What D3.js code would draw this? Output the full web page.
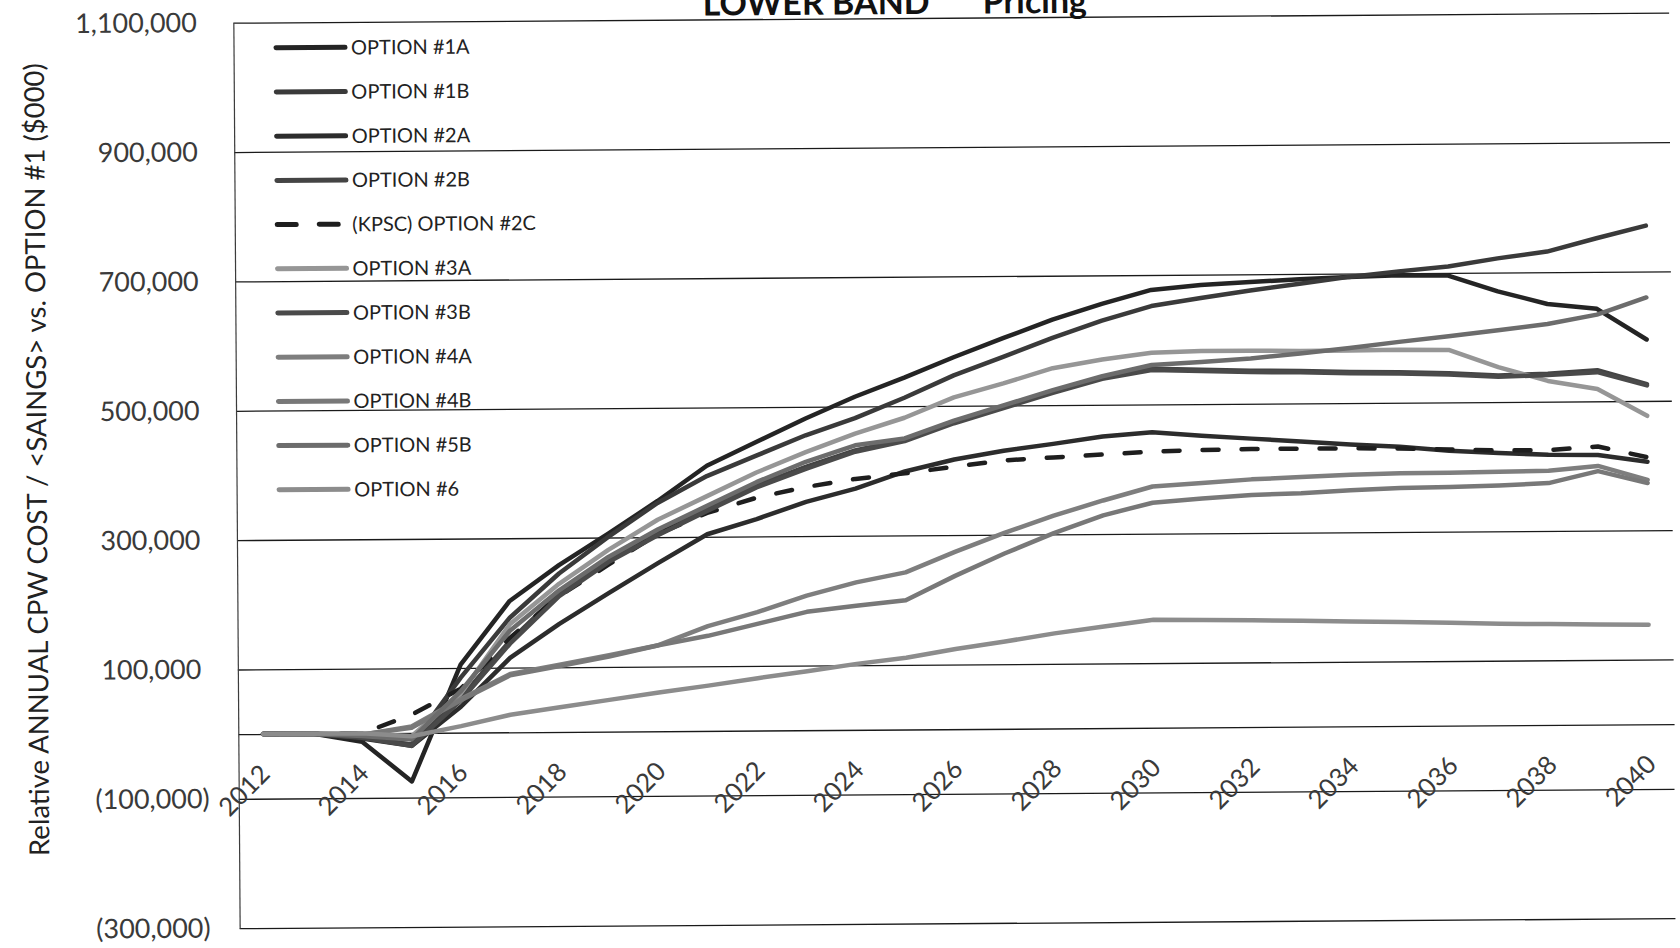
<!DOCTYPE html>
<html>
<head>
<meta charset="utf-8">
<script src="https://cdn.jsdelivr.net/npm/d3@7"></script>
<style>
  html, body { margin: 0; padding: 0; background: #fff; overflow: hidden; }
  svg { display: block; }
</style>
</head>
<body>
<svg id="chart" width="1680" height="948"></svg>
<script>
// ---- data: relative annual CPW cost vs. Option #1, in $000 ----
const years = [2012, 2013, 2014, 2015, 2016, 2017, 2018, 2019, 2020, 2021,
               2022, 2023, 2024, 2025, 2026, 2027, 2028, 2029, 2030, 2031,
               2032, 2033, 2034, 2035, 2036, 2037, 2038, 2039, 2040];

const option1A = [0, 0, -13000, -75000, 105000, 203000, 258000, 306000, 356000, 410000,
                  446000, 482000, 515000, 544000, 575000, 604000, 632000, 656000, 677000, 684000,
                  688000, 692000, 695000, 697000, 696000, 671000, 651000, 643000, 595000];
const option1B = [0, 0, -6000, -18000, 85000, 177000, 245000, 301000, 353000, 394000,
                  425000, 456000, 482000, 513000, 547000, 575000, 604000, 630000, 652000, 664000,
                  675000, 685000, 695000, 703000, 710000, 722000, 732000, 752000, 771000];
const option2A = [0, 0, -8000, -20000, 40000, 115000, 167000, 214000, 260000, 304000,
                  327000, 353000, 373000, 399000, 417000, 430000, 440000, 451000, 457000, 451000,
                  446000, 441000, 436000, 432000, 425000, 421000, 418000, 417000, 406000];
const option2B = [0, 0, -6000, -18000, 54000, 141000, 214000, 265000, 306000, 343000,
                  379000, 407000, 432000, 448000, 475000, 498000, 521000, 542000, 555000, 553000,
                  551000, 550000, 548000, 547000, 545000, 541000, 543000, 548000, 526000];
const option2C = [0, 0, 0, 28000, 68000, 146000, 210000, 258000, 305000, 337000,
                  360000, 376000, 388000, 396000, 406000, 415000, 419000, 423000, 427000, 429000,
                  430000, 430000, 430000, 429000, 427000, 425000, 425000, 430000, 413000];
const option3A = [0, 0, -3000, -5000, 60000, 167000, 229000, 281000, 327000, 363000,
                  399000, 430000, 458000, 482000, 513000, 534000, 557000, 570000, 580000, 582000,
                  582000, 581000, 581000, 582000, 581000, 554000, 532000, 519000, 477000];
const option3B = [0, 0, -7000, -20000, 50000, 137000, 210000, 262000, 303000, 340000,
                  376000, 404000, 430000, 446000, 473000, 496000, 519000, 540000, 553000, 551000,
                  549000, 548000, 546000, 545000, 543000, 539000, 541000, 545000, 524000];
const option4A = [0, 0, -2000, 10000, 52000, 90000, 104000, 118000, 133000, 162000,
                  183000, 208000, 228000, 243000, 274000, 303000, 329000, 352000, 373000, 378000,
                  383000, 386000, 389000, 391000, 391000, 392000, 393000, 400000, 378000];
const option4B = [0, 0, -2000, 8000, 50000, 88000, 102000, 116000, 133000, 147000,
                  165000, 183000, 192000, 200000, 237000, 271000, 302000, 329000, 348000, 354000,
                  359000, 361000, 365000, 368000, 369000, 371000, 374000, 392000, 373000];
const option5B = [0, 0, -4000, -10000, 64000, 157000, 219000, 270000, 312000, 348000,
                  384000, 415000, 440000, 450000, 477000, 500000, 523000, 544000, 561000, 565000,
                  570000, 577000, 585000, 594000, 602000, 611000, 620000, 634000, 660000];
const option6  = [0, 0, 0, -5000, 10000, 27000, 38000, 49000, 60000, 70000,
                  81000, 91000, 102000, 111000, 124000, 135000, 147000, 157000, 167000, 166000,
                  165000, 164000, 162000, 161000, 159000, 157000, 156000, 155000, 154000];

const seriesNames = ["OPTION #1A", "OPTION #1B", "OPTION #2A", "OPTION #2B", "(KPSC) OPTION #2C",
                     "OPTION #3A", "OPTION #3B", "OPTION #4A", "OPTION #4B", "OPTION #5B", "OPTION #6"];
const seriesValues = [option1A, option1B, option2A, option2B, option2C,
                      option3A, option3B, option4A, option4B, option5B, option6];

const xTickYears = [2012, 2014, 2016, 2018, 2020, 2022, 2024, 2026, 2028, 2030, 2032, 2034, 2036, 2038, 2040];
const yTickValues = [-300000, -100000, 100000, 300000, 500000, 700000, 900000, 1100000];

const titleLeft = "LOWER BAND";
const titleRight = "Pricing";
const yAxisTitle = "Relative ANNUAL CPW COST / <SAINGS> vs. OPTION #1 ($000)";

// ---- styling (greyscale print) ----
const seriesColors = ["#242424", "#3a3a3a", "#2c2c2c", "#444444", "#1e1e1e",
                      "#969696", "#4a4a4a", "#7e7e7e", "#787878", "#6c6c6c", "#8c8c8c"];
const seriesDash   = [null, null, null, null, "16,23", null, null, null, null, null, null];
const FONT = "Lato, 'Open Sans', 'Noto Sans', sans-serif";

// ---- layout ----
const plotLeft = 236.5, plotRight = 1672.3, plotTop = 18.5, plotBottom = 924;

const svg = d3.select("#chart");
svg.append("rect").attr("width", 1680).attr("height", 948).attr("fill", "#fff");

// the printed page sits very slightly askew
const root = svg.append("g").attr("transform", "rotate(-0.4 840 474)");

const x = d3.scalePoint().domain(years).range([plotLeft, plotRight]).padding(0.5);
const y = d3.scaleLinear().domain([-300000, 1100000]).range([plotBottom, plotTop]);

function fitWidth(sel, target) {
  const w = sel.node().getComputedTextLength();
  const fs = parseFloat(sel.attr("font-size"));
  const nfs = fs * target / w;
  sel.attr("font-size", nfs);
  return nfs;
}

// horizontal gridlines (major units)
root.append("g")
  .attr("transform", `translate(${plotLeft},0)`)
  .call(d3.axisLeft(y).tickValues(yTickValues).tickSize(-(plotRight - plotLeft)).tickFormat(""))
  .call(g => g.select(".domain").remove())
  .call(g => g.selectAll("line").attr("stroke", "#1a1a1a").attr("stroke-width", 1.3));

// value axis with accounting-style labels
const fmt = d3.format(",");
const yAxisG = root.append("g")
  .attr("transform", `translate(${plotLeft},0)`)
  .call(d3.axisLeft(y).tickValues(yTickValues).tickSize(0).tickPadding(36.5)
        .tickFormat(d => d < 0 ? `(${fmt(-d)})` : fmt(d)));
yAxisG.select(".domain").attr("stroke", "#3c3c3c").attr("stroke-width", 1.2);
yAxisG.selectAll("text")
  .attr("font-family", FONT).attr("font-size", 26).attr("fill", "#3a3a3a")
  .attr("x", d => d < 0 ? -29 : -36.5);
// size the tick font from the "100,000" label width
const refTick = yAxisG.selectAll("text").filter(d => d === 100000);
const tickFs = fitWidth(refTick, 100);
yAxisG.selectAll("text").attr("font-size", tickFs);

// category axis crossing at zero
const xAxisG = root.append("g")
  .attr("transform", `translate(0,${y(0)})`)
  .call(d3.axisBottom(x).tickValues(xTickYears).tickSize(0).tickSizeOuter(0));
xAxisG.select(".domain").attr("stroke", "#1a1a1a").attr("stroke-width", 1.3);
xAxisG.selectAll("text")
  .attr("font-family", FONT).attr("font-size", tickFs * 0.95).attr("fill", "#3a3a3a")
  .attr("text-anchor", "end")
  .attr("x", 0).attr("y", 0).attr("dy", 0)
  .attr("transform", "translate(7.5,41.5) rotate(-45)");

// series lines
const line = d3.line()
  .x((d, i) => x(years[i]))
  .y(d => y(d));

seriesValues.forEach((vals, i) => {
  root.append("path")
    .datum(vals)
    .attr("d", line)
    .attr("fill", "none")
    .attr("stroke", seriesColors[i])
    .attr("stroke-width", 4.5)
    .attr("stroke-linejoin", "round")
    .attr("stroke-linecap", "round")
    .attr("stroke-dasharray", seriesDash[i]);
});

// legend inside the plot area
const legendTop = 43.9, legendStep = 44.2;
const legend = root.append("g");
const legendItems = legend.selectAll("g")
  .data(seriesNames)
  .join("g")
  .attr("transform", (d, i) => `translate(0,${legendTop + i * legendStep})`);
legendItems.append("line")
  .attr("x1", 279).attr("x2", 348).attr("y1", 0).attr("y2", 0)
  .attr("stroke", (d, i) => seriesColors[i])
  .attr("stroke-width", 5)
  .attr("stroke-linecap", "round")
  .attr("stroke-dasharray", (d, i) => seriesDash[i] ? "19,23" : null);
const legendTexts = legendItems.append("text")
  .attr("x", 354).attr("dy", "0.36em")
  .attr("font-family", FONT).attr("font-size", 22).attr("fill", "#222")
  .text(d => d);
const legFs = fitWidth(legendTexts.filter(d => d === "OPTION #3B"), 118);
legendTexts.attr("font-size", legFs);

// chart title (runs off the top edge of the page)
const tL = root.append("text")
  .attr("x", 706).attr("y", 14.5)
  .attr("font-family", FONT).attr("font-weight", 700).attr("font-size", 34).attr("fill", "#111")
  .text(titleLeft);
const titleFs = fitWidth(tL, 227);
root.append("text")
  .attr("x", 986).attr("y", 14.5)
  .attr("font-family", FONT).attr("font-weight", 700).attr("font-size", titleFs).attr("fill", "#111")
  .text(titleRight);

// value axis title
const yt = root.append("text")
  .attr("transform", "translate(37,454) rotate(-90)")
  .attr("text-anchor", "middle").attr("dy", "0.35em")
  .attr("font-family", FONT).attr("font-size", 28).attr("fill", "#222")
  .text(yAxisTitle);
fitWidth(yt, 793);
</script>
</body>
</html>
